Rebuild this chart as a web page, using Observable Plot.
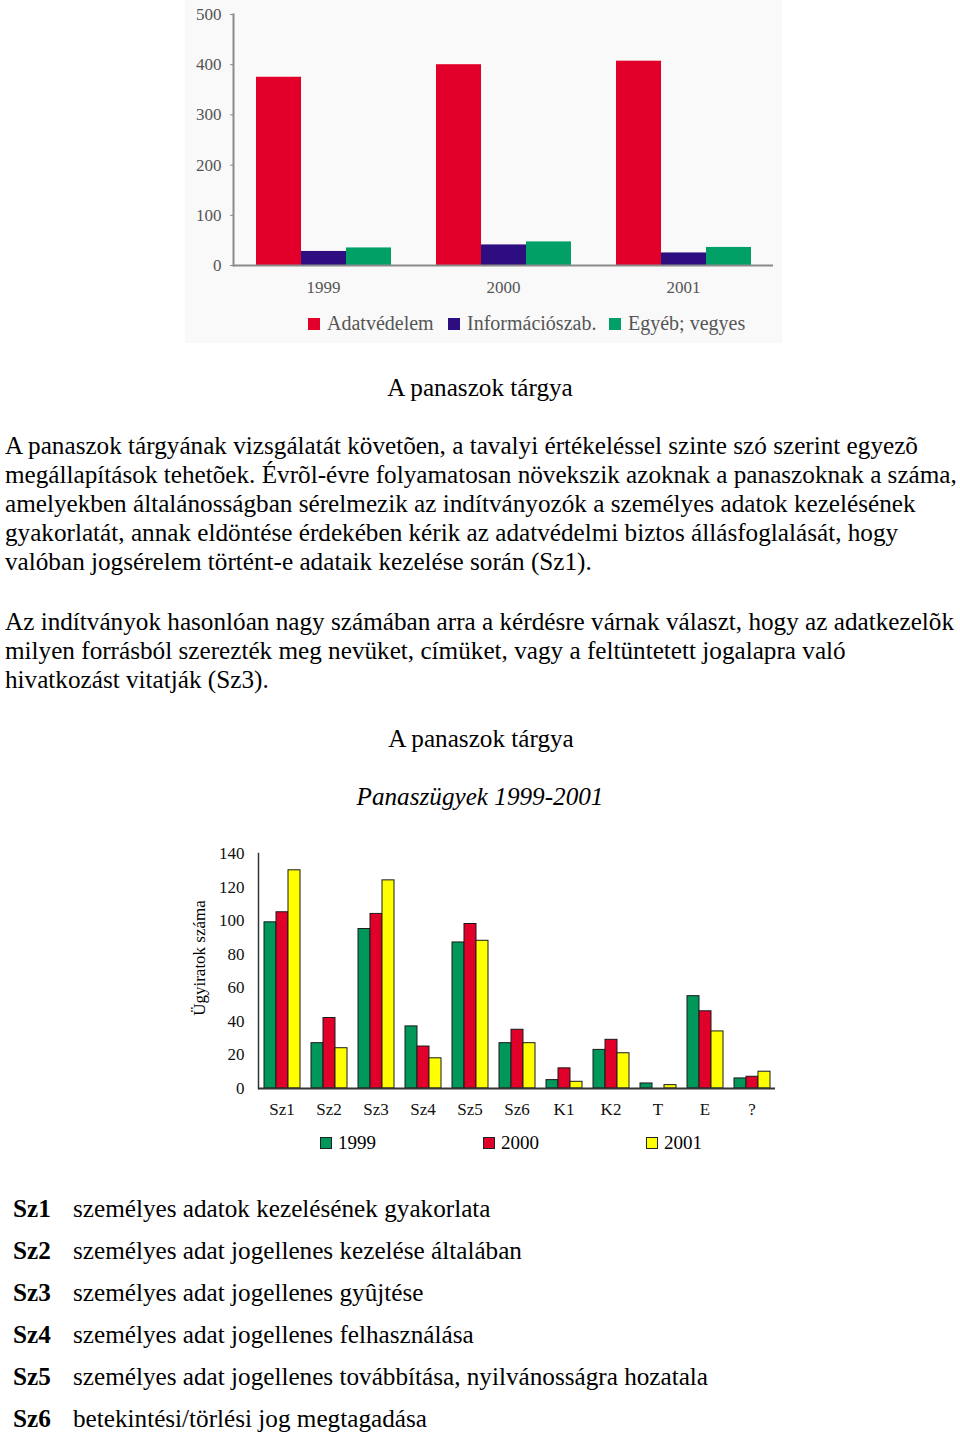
<!DOCTYPE html>
<html><head><meta charset="utf-8">
<script src="https://cdn.jsdelivr.net/npm/d3@7"></script>
<script src="https://cdn.jsdelivr.net/npm/@observablehq/plot@0.6"></script>
<style>
body{margin:0;background:#fff;}
#page{position:relative;width:960px;height:1435px;font-family:"Liberation Serif","Times New Roman",serif;color:#000;overflow:hidden;}
.abs{position:absolute;}
.t{font-size:25.2px;line-height:29px;white-space:nowrap;}
.center{left:0;width:960px;text-align:center;}
#c1wrap{left:185px;top:0;width:597px;height:343px;background:#f9f9f9;}
#c1wrap svg,#c2wrap svg{display:block;}
.leg1{position:absolute;top:313px;font-size:20px;color:#555;line-height:20px;white-space:nowrap;}
.leg1 .sw{display:inline-block;width:12px;height:12px;margin-right:7px;vertical-align:0px;}
#c2wrap{left:185px;top:840px;width:600px;height:285px;}
.leg2{position:absolute;top:1133px;font-size:19px;line-height:20px;white-space:nowrap;}
.leg2 .sw{display:inline-block;width:10px;height:10px;border:1px solid #222;margin-right:6px;vertical-align:0px;}
.ylab{position:absolute;left:200px;top:958px;font-size:17px;white-space:nowrap;transform:translate(-50%,-50%) rotate(-90deg);}
.def{font-size:25.2px;line-height:30px;white-space:nowrap;}
.def b{display:inline-block;width:60px;}
</style></head>
<body><div id="page">
<div id="c1wrap" class="abs"></div>
<div class="abs t center" style="top:373px">A panaszok tárgya</div>
<div id="p1" class="abs t" style="left:5px;top:431px"></div>
<div id="p2" class="abs t" style="left:5px;top:607px"></div>
<div class="abs t center" style="top:724px;left:1px">A panaszok tárgya</div>
<div class="abs t center" style="top:782px;font-style:italic;">Panaszügyek 1999-2001</div>
<div id="c2wrap" class="abs"></div>
<div id="ylab" class="ylab"></div>
<div id="defs" class="abs" style="left:13px;top:1194px"></div>
</div>
<script>
// ---- Chart 1 data ----
const years1 = ["1999", "2000", "2001"];
const series1 = ["Adatvédelem", "Információszab.", "Egyéb; vegyes"];
const adatvedelem = [375, 400, 407];
const informacioszab = [28, 41, 25];
const egyeb = [35, 47, 36];
const colors1 = ["#e2002b", "#2d0d80", "#00a066"];
const ticks1 = [0, 100, 200, 300, 400, 500];

// ---- Chart 2 data ----
const cats2 = ["Sz1", "Sz2", "Sz3", "Sz4", "Sz5", "Sz6", "K1", "K2", "T", "E", "?"];
const years2 = ["1999", "2000", "2001"];
const v1999 = [99, 27, 95, 37, 87, 27, 5, 23, 3, 55, 6];
const v2000 = [105, 42, 104, 25, 98, 35, 12, 29, 0, 46, 7];
const v2001 = [130, 24, 124, 18, 88, 27, 4, 21, 2, 34, 10];
const colors2 = ["#00975a", "#e0002a", "#ffff00"];
const ticks2 = [0, 20, 40, 60, 80, 100, 120, 140];
const yLabel2 = "Ügyiratok száma";

// ---- Text ----
const para1 = [
  "A panaszok tárgyának vizsgálatát követõen, a tavalyi értékeléssel szinte szó szerint egyezõ",
  "megállapítások tehetõek. Évrõl-évre folyamatosan növekszik azoknak a panaszoknak a száma,",
  "amelyekben általánosságban sérelmezik az indítványozók a személyes adatok kezelésének",
  "gyakorlatát, annak eldöntése érdekében kérik az adatvédelmi biztos állásfoglalását, hogy",
  "valóban jogsérelem történt-e adataik kezelése során (Sz1)."
];
const para2 = [
  "Az indítványok hasonlóan nagy számában arra a kérdésre várnak választ, hogy az adatkezelõk",
  "milyen forrásból szerezték meg nevüket, címüket, vagy a feltüntetett jogalapra való",
  "hivatkozást vitatják (Sz3)."
];
const defCodes = ["Sz1", "Sz2", "Sz3", "Sz4", "Sz5", "Sz6"];
const defTexts = [
  "személyes adatok kezelésének gyakorlata",
  "személyes adat jogellenes kezelése általában",
  "személyes adat jogellenes gyûjtése",
  "személyes adat jogellenes felhasználása",
  "személyes adat jogellenes továbbítása, nyilvánosságra hozatala",
  "betekintési/törlési jog megtagadása"
];

// fill text
document.getElementById("p1").innerHTML = para1.map(s => `<div>${s}</div>`).join("");
document.getElementById("p2").innerHTML = para2.map(s => `<div>${s}</div>`).join("");
document.getElementById("defs").innerHTML = defCodes.map((c, i) =>
  `<div class="def" style="margin-bottom:12px"><b>${c}</b>${defTexts[i]}</div>`).join("");
document.getElementById("ylab").textContent = yLabel2;

// ---- Chart 1 ----
const seriesVals1 = [adatvedelem, informacioszab, egyeb];
const data1 = years1.flatMap((y, i) => series1.map((s, j) => ({year: y, series: s, value: seriesVals1[j][i]})));

const chart1 = Plot.plot({
  width: 597, height: 300,
  marginTop: 14, marginBottom: 35, marginLeft: 47, marginRight: 9,
  style: {background: "transparent", fontFamily: "'Liberation Serif', serif", fontSize: "17px", color: "#555"},
  fx: {domain: years1, padding: 0, label: null},
  x: {domain: series1, paddingInner: 0, paddingOuter: 0.49, axis: null},
  y: {domain: [0, 500], label: null},
  color: {domain: series1, range: colors1},
  marks: [
    Plot.barY(data1, {fx: "year", x: "series", y: "value", fill: "series"}),
    Plot.ruleY([0], {stroke: "#8a8a8a", strokeWidth: 2}),
    Plot.frame({anchor: "left", facetAnchor: "left", stroke: "#8a8a8a", strokeWidth: 2}),
    Plot.axisY({ticks: ticks1, tickSize: 3, tickPadding: 9, label: null, stroke: "#8a8a8a"}),
    Plot.axisFx({anchor: "bottom", tickSize: 0, tickPadding: 15, label: null})
  ]
});
const w1 = document.getElementById("c1wrap");
w1.appendChild(chart1);
series1.forEach((s, i) => {
  const d = document.createElement("div");
  d.className = "leg1";
  d.style.left = [123, 263, 424][i] + "px";
  d.innerHTML = `<span class="sw" style="background:${colors1[i]}"></span>${s}`;
  w1.appendChild(d);
});

// ---- Chart 2 ----
const vals2 = [v1999, v2000, v2001];
const data2 = cats2.flatMap((c, i) => years2.map((y, j) => ({cat: c, year: y, value: vals2[j][i]})));

const chart2 = Plot.plot({
  width: 600, height: 285,
  marginTop: 13, marginBottom: 37, marginLeft: 73, marginRight: 10,
  style: {background: "transparent", fontFamily: "'Liberation Serif', serif", fontSize: "17px", color: "#111"},
  fx: {domain: cats2, padding: 0, label: null},
  x: {domain: years2, paddingInner: 0, paddingOuter: 0.45, axis: null},
  y: {domain: [0, 140], label: null},
  color: {domain: years2, range: colors2},
  marks: [
    Plot.barY(data2.filter(d => d.value > 0), {fx: "cat", x: "year", y: "value", fill: "year", stroke: "#1a1a1a", strokeWidth: 1}),
    Plot.ruleY([0], {stroke: "#333", strokeWidth: 2}),
    Plot.frame({anchor: "left", facetAnchor: "left", stroke: "#333", strokeWidth: 1.5}),
    Plot.axisY({ticks: ticks2, tickSize: 0, tickPadding: 14, label: null}),
    Plot.axisFx({anchor: "bottom", tickSize: 0, tickPadding: 14, label: null})
  ]
});
document.getElementById("c2wrap").appendChild(chart2);
const page = document.getElementById("page");
years2.forEach((y, i) => {
  const d = document.createElement("div");
  d.className = "leg2";
  d.style.left = [320, 483, 646][i] + "px";
  d.innerHTML = `<span class="sw" style="background:${colors2[i]}"></span>${y}`;
  page.appendChild(d);
});
</script>
</body></html>
